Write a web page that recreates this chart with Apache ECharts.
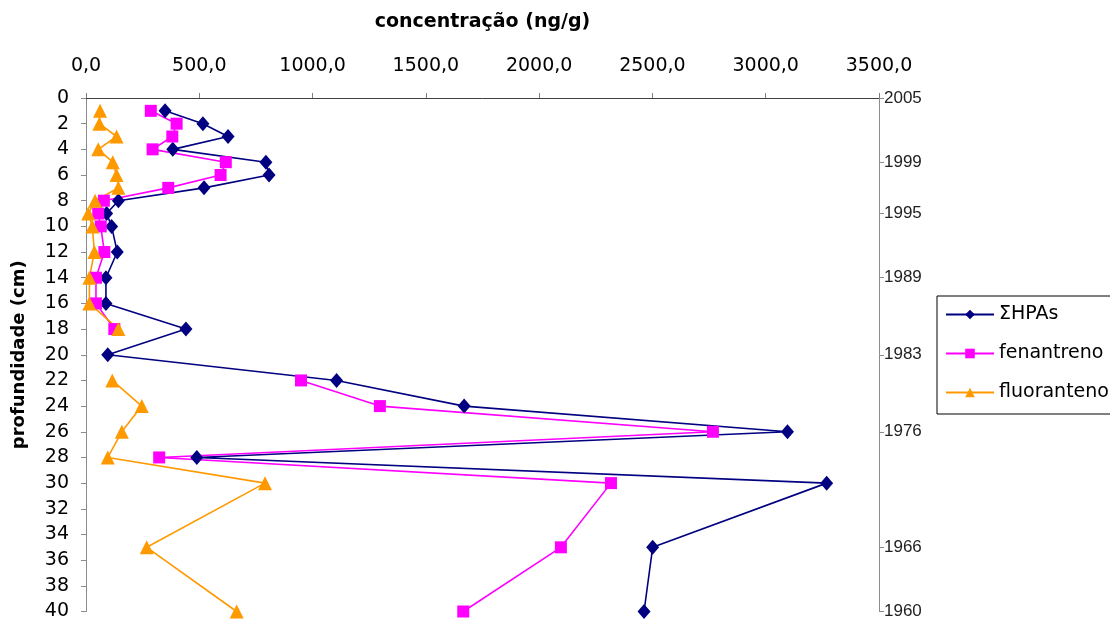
<!DOCTYPE html>
<html>
<head>
<meta charset="utf-8">
<script src="https://cdn.jsdelivr.net/npm/echarts@6/dist/echarts.min.js"></script>
<style>
  html, body { margin: 0; padding: 0; background: #fff; }
  #chart { width: 1110px; height: 621px; }
</style>
</head>
<body>
<div id="chart"></div>
<script>
// Sediment core depths (cm)
const depths = [1, 2, 3, 4, 5, 6, 7, 8, 9, 10, 12, 14, 16, 18, 20, 22, 24, 26, 28, 30, 35, 40];

// Concentrations (ng/g) per depth; null = not determined
const somaHPAs   = [349, 516, 627, 383, 794, 808, 521, 143, 91, 113, 138, 88, 88, 441, 96, 1106, 1669, 3096, 489, 3269, 2501, 2463];
const fenantreno = [286, 400, 381, 294, 617, 594, 363, 79, 54, 65, 81, 44, 44, 125, null, 949, 1297, 2767, 323, 2317, 2096, 1665];
const fluoranteno = [62, 59, 135, 54, 118, 135, 143, 40, 10, 28, 37, 15, 15, 143, null, 116, 246, 158, 96, 790, 268, 665];

// Dated horizons on the secondary axis
const yearDepths = [0, 5, 9, 14, 20, 26, 35, 40];
const yearLabels = ['2005', '1999', '1995', '1989', '1983', '1976', '1966', '1960'];

const seriesNames = ['\u03A3HPAs', 'fenantreno', 'fluoranteno'];
const seriesColors = ['#000080', '#FF00FF', '#FF9900'];
const seriesSymbols = ['diamond', 'rect', 'triangle'];
const seriesSizes = [[13, 15], 12, 14];

function pairs(values) {
  return values.map((v, i) => [v === null ? '-' : v, depths[i]]);
}

const FONT = 'DejaVu Sans';
const chart = echarts.init(document.getElementById('chart'), null, { renderer: 'canvas' });

chart.setOption({
  backgroundColor: '#ffffff',
  animation: false,
  grid: { left: 86, right: 231, top: 98, bottom: 9, containLabel: false },
  legend: {
    orient: 'vertical',
    left: 937,
    top: 296,
    padding: [9, 40, 12, 8],
    itemGap: 20,
    itemWidth: 48,
    itemHeight: 12,
    borderColor: '#000',
    borderWidth: 1,
    textStyle: { fontFamily: FONT, fontSize: 19, color: '#000' },
    data: seriesNames
  },
  xAxis: {
    type: 'value',
    position: 'top',
    min: 0,
    max: 3500,
    interval: 500,
    name: 'concentração (ng/g)',
    nameLocation: 'middle',
    nameGap: 66,
    nameTextStyle: { fontFamily: FONT, fontSize: 19, fontWeight: 'bold', color: '#000' },
    axisLine: { show: true, lineStyle: { color: '#404040', width: 1 } },
    axisTick: { show: true, inside: false, length: 5, lineStyle: { color: '#808080' } },
    axisLabel: {
      fontFamily: FONT, fontSize: 19, color: '#000', margin: 22,
      formatter: v => v.toFixed(1).replace('.', ',')
    },
    splitLine: { show: false }
  },
  yAxis: [
    {
      type: 'value',
      position: 'left',
      inverse: true,
      min: 0,
      max: 40,
      interval: 2,
      name: 'profundidade (cm)',
      nameLocation: 'middle',
      nameGap: 58,
      nameRotate: 90,
      nameTextStyle: { fontFamily: FONT, fontSize: 18, fontWeight: 'bold', color: '#000' },
      axisLine: { show: true, lineStyle: { color: '#8c8c8c', width: 1 } },
      axisTick: { show: true, inside: false, length: 5, lineStyle: { color: '#8c8c8c' } },
      axisLabel: { fontFamily: FONT, fontSize: 19, color: '#000', margin: 17 },
      splitLine: { show: false }
    },
    {
      type: 'value',
      position: 'right',
      inverse: true,
      min: 0,
      max: 40,
      axisLine: { show: true, lineStyle: { color: '#8c8c8c', width: 1 } },
      axisTick: { show: true, inside: false, length: 5, customValues: yearDepths, lineStyle: { color: '#8c8c8c' } },
      axisLabel: {
        fontFamily: 'Liberation Sans', fontSize: 17, color: '#222', margin: 5,
        customValues: yearDepths,
        formatter: v => yearLabels[yearDepths.indexOf(v)]
      },
      splitLine: { show: false }
    }
  ],
  series: [somaHPAs, fenantreno, fluoranteno].map((vals, k) => ({
    name: seriesNames[k],
    type: 'line',
    yAxisIndex: 0,
    data: pairs(vals),
    connectNulls: false,
    symbol: seriesSymbols[k],
    symbolSize: seriesSizes[k],
    showAllSymbol: true,
    itemStyle: { color: seriesColors[k] },
    lineStyle: { color: seriesColors[k], width: 1.6 },
    emphasis: { disabled: true }
  }))
});
</script>
</body>
</html>
